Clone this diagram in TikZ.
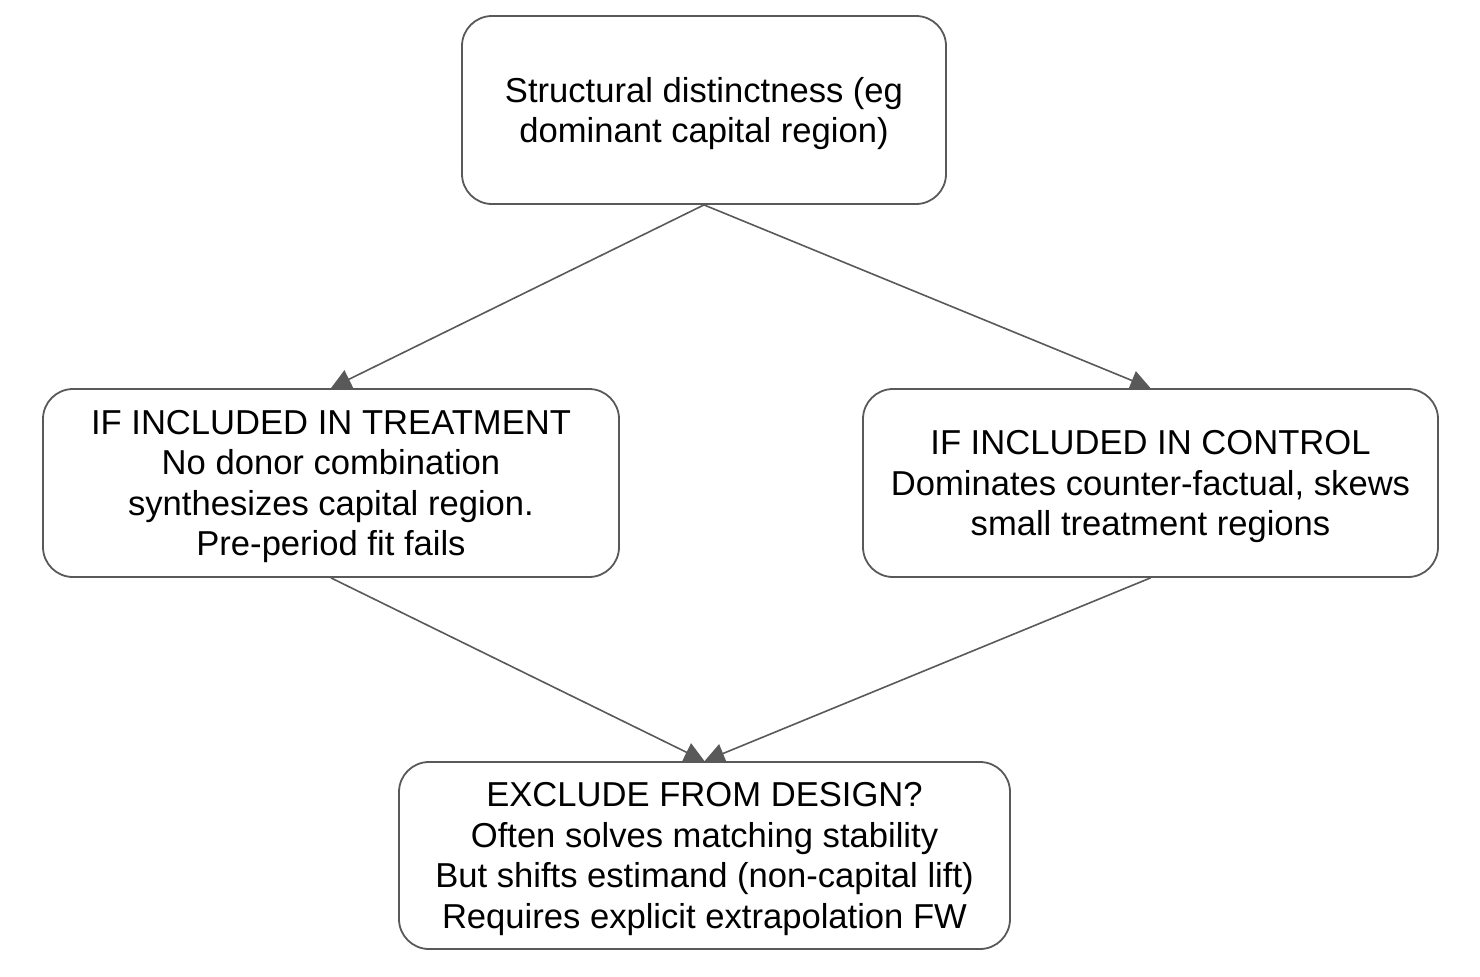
\documentclass[tikz,border=0pt]{standalone}
\usepackage{fontspec}
\setmainfont{Liberation Sans}
\usepackage{tikz}
\usetikzlibrary{arrows.meta}

\definecolor{edgegray}{HTML}{595959}

\tikzset{
  box/.style={draw=edgegray, line width=0.9pt, rounded corners=15pt, align=center,
    inner sep=0pt, text depth=0pt, font=\fontsize{17.3}{20.25}\selectfont},
  link/.style={draw=edgegray, line width=0.8pt, -{Triangle[length=10pt,width=10pt]}}
}

\begin{document}
\begin{tikzpicture}[x=1pt,y=1pt]
\useasboundingbox (0,0) rectangle (740,-488);
\node[box, minimum width=242pt, minimum height=94pt] (capital) at (352,-55)
  {Structural distinctness (eg\\dominant capital region)};
\node[box, minimum width=288pt, minimum height=94pt] (treat) at (165.5,-241.5)
  {IF INCLUDED IN TREATMENT\\No donor combination\\synthesizes capital region.\\Pre-period fit fails};
\node[box, minimum width=287.5pt, minimum height=94pt] (ctrl) at (575.25,-241.5)
  {IF INCLUDED IN CONTROL\\Dominates counter-factual, skews\\small treatment regions};
\node[box, minimum width=305.5pt, minimum height=93.5pt] (exclude) at (352.25,-427.75)
  {EXCLUDE FROM DESIGN?\\Often solves matching stability\\But shifts estimand (non-capital lift)\\Requires explicit extrapolation FW};
% arrows
\foreach \a/\b in {capital/treat, capital/ctrl}
\draw[link] (\a.south) -- (\b.north);
\foreach \a/\b in {treat/exclude, ctrl/exclude}
\draw[link] (\a.south) -- (\b.north);
\end{tikzpicture}
\end{document}
